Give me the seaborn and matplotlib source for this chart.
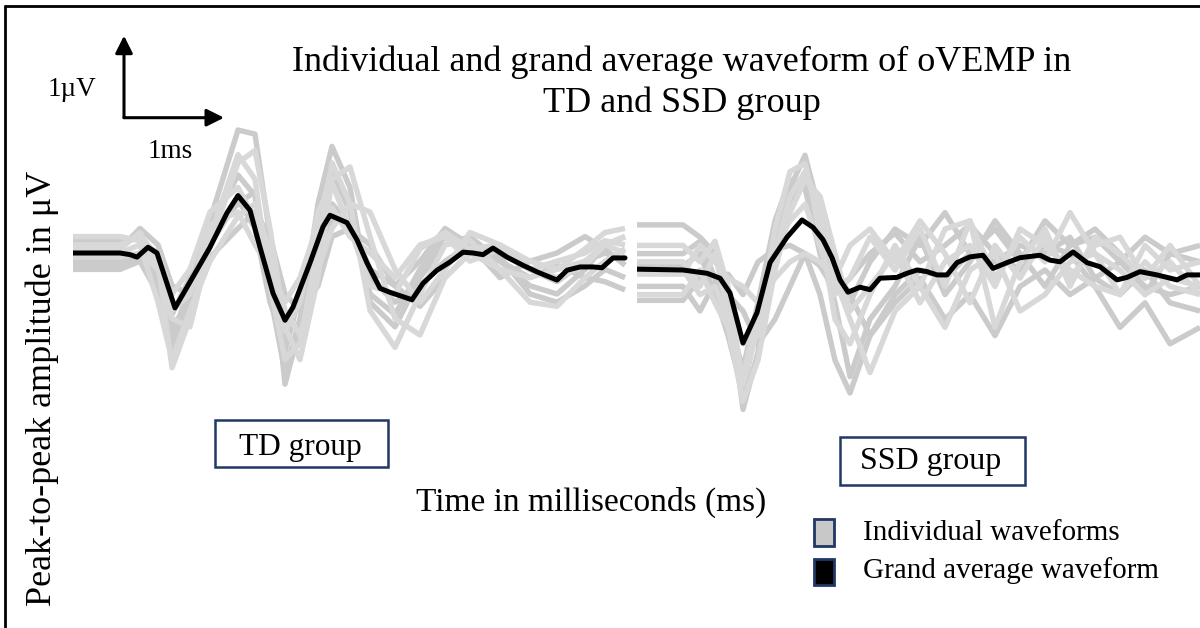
import numpy as np
import pandas as pd
import matplotlib
matplotlib.use("Agg")
import matplotlib.pyplot as plt
from matplotlib.patches import Rectangle
import seaborn as sns

# ---------------- data (ms, µV) ----------------
td_mean_t = [0, 0.47, 0.57, 0.64, 0.75, 0.84, 1.02, 1.20, 1.37, 1.54, 1.65, 1.77, 1.87, 2.00,
             2.12, 2.20, 2.37, 2.50, 2.57, 2.74, 2.84, 2.94, 3.07, 3.17, 3.39, 3.50, 3.64, 3.77,
             3.90, 4.00, 4.10, 4.20, 4.34, 4.50, 4.64, 4.84, 4.94, 5.07, 5.20, 5.29, 5.40, 5.52]
td_mean_v = [0, 0, -0.02, -0.05, 0.07, 0, -0.67, -0.29, 0.07, 0.49, 0.70, 0.52, 0.07, -0.49,
             -0.82, -0.66, -0.12, 0.32, 0.46, 0.37, 0.16, -0.12, -0.43, -0.48, -0.57, -0.37, -0.21, -0.11,
             0.01, 0, -0.02, 0.06, -0.05, -0.15, -0.23, -0.33, -0.21, -0.17, -0.17, -0.18, -0.06, -0.06]

ssd_mean_t = [0, 0.46, 0.70, 0.83, 0.93, 1.06, 1.20, 1.33, 1.50, 1.65, 1.76, 1.86, 1.95, 2.03,
              2.11, 2.23, 2.33, 2.43, 2.60, 2.70, 2.80, 2.90, 3.00, 3.10, 3.20, 3.33, 3.46, 3.56,
              3.70, 3.83, 4.03, 4.13, 4.23, 4.36, 4.50, 4.63, 4.80, 4.90, 5.03, 5.20, 5.40, 5.50, 5.63]
ssd_mean_v = [0.01, 0, -0.04, -0.10, -0.28, -0.89, -0.52, 0.09, 0.40, 0.61, 0.52, 0.37, 0.15, -0.12,
              -0.27, -0.21, -0.24, -0.10, -0.09, -0.04, 0, -0.02, -0.06, -0.06, 0.09, 0.16, 0.18, 0.02,
              0.09, 0.15, 0.18, 0.12, 0.10, 0.22, 0.09, 0.04, -0.12, -0.09, -0.02, -0.06, -0.12, -0.06, -0.06]

td_ind_t = [0.00, 0.47, 0.67, 0.85, 0.99, 1.17, 1.37, 1.65, 1.82, 1.97, 2.12, 2.27, 2.45,
            2.59, 2.77, 2.97, 3.22, 3.47, 3.72, 3.97, 4.27, 4.57, 4.84, 5.12, 5.32, 5.52]
td_ind = [
    [0.15, 0.15, 0.2, -0.3, -1.2, -0.6, 0.4, 1.5, 1.45, 0.2, -1.6, -0.9, 0.6, 1.3, 0.8, -0.6, -0.9, -0.3, 0.1, 0.2, -0.1, -0.4, -0.5, -0.2, 0.1, 0.2],
    [0.05, 0.05, 0.25, -0.1, -1.4, -0.8, 0.2, 1.2, 0.9, -0.4, -1.3, -1.1, 0.1, 1.1, 0.6, -0.7, -1.15, -0.5, 0.1, 0.15, -0.2, -0.6, -0.65, -0.3, -0.1, 0.05],
    [-0.1, -0.1, 0.0, -0.4, -0.9, -0.6, 0.3, 0.95, 0.7, -0.5, -1.45, -0.8, 0.3, 1.0, 0.5, -0.5, -0.75, -0.2, 0.2, 0.1, 0.0, -0.2, -0.35, -0.1, 0.0, -0.1],
    [0.2, 0.2, 0.15, 0.0, -0.5, -0.2, 0.5, 0.8, 0.4, -0.3, -0.95, -0.6, 0.5, 0.85, 0.3, -0.4, -0.5, 0.05, 0.25, 0.05, 0.1, -0.1, -0.2, 0.05, 0.25, 0.3],
    [-0.15, -0.15, -0.05, -0.3, -1.05, -0.4, 0.1, 0.65, 0.3, -0.6, -1.1, -0.5, 0.2, 0.6, 0.35, -0.3, -0.6, -0.4, -0.1, 0.1, -0.05, -0.5, -0.6, -0.4, -0.2, -0.3],
    [0.1, 0.1, 0.2, -0.2, -0.7, -0.5, 0.35, 0.5, 0.1, -0.2, -0.6, -0.3, 0.35, 0.55, 0.2, 0.0, -0.3, 0.1, 0.2, -0.1, 0.05, -0.2, -0.1, 0.0, 0.15, 0.1],
    [-0.2, -0.2, -0.1, -0.5, -0.75, -0.3, 0.25, 0.6, 0.75, -0.2, -1.2, -0.5, -0.1, 0.4, 0.4, -0.2, -0.4, -0.65, -0.3, 0.0, -0.1, -0.3, -0.15, -0.3, -0.35, -0.45],
    [0.0, 0.0, 0.1, -0.6, -1.3, -0.7, -0.1, 0.45, 0.6, 0.0, -0.7, -1.0, -0.2, 0.3, 0.6, 0.5, -0.2, -0.6, -0.2, 0.25, 0.1, -0.2, -0.3, -0.15, 0.1, 0.0],
    [0.05, 0.05, 0.3, 0.1, -0.4, -0.5, -0.05, 0.3, 0.5, 0.2, -0.5, -0.7, -0.4, 0.2, 0.3, 0.1, -0.4, -0.1, 0.3, 0.1, -0.3, -0.1, 0.0, 0.2, 0.05, -0.15],
    [-0.05, -0.05, 0.0, -0.2, -0.8, -0.9, 0.1, 1.1, 1.25, 0.3, -0.9, -1.3, -0.3, 0.9, 1.05, 0.2, -0.8, -1.0, -0.3, 0.0, -0.2, -0.3, -0.2, -0.1, 0.1, 0.2],
]

ssd_ind_t = [0, 0.46, 0.63, 0.78, 0.91, 1.06, 1.21, 1.38, 1.53, 1.68, 1.83, 1.98, 2.13, 2.33,
             2.58, 2.83, 3.08, 3.33, 3.58, 3.83, 4.08, 4.33, 4.58, 4.83, 5.08, 5.33, 5.63]
ssd_ind = [
    [0.55, 0.55, 0.4, 0.2, -0.3, -1.7, -1.0, 0.3, 1.0, 1.4, 0.7, -0.2, -0.4, 0.1, 0.5, 0.3, 0.7, 0.2, 0.5, 0.1, 0.6, 0.3, 0.4, 0.1, 0.4, 0.2, 0.3],
    [0.3, 0.3, 0.1, 0.35, -0.2, -1.4, -0.7, 0.5, 1.2, 1.3, 0.5, -0.6, -0.9, -0.3, 0.3, -0.2, 0.5, 0.6, -0.1, 0.4, 0.1, 0.7, 0.2, -0.3, 0.3, 0.0, 0.1],
    [0.2, 0.2, 0.35, -0.1, -0.6, -1.2, -0.4, 0.6, 1.1, 1.0, 0.2, -0.4, -1.3, -0.6, -0.2, 0.4, -0.3, 0.1, 0.6, 0.2, -0.2, 0.3, 0.5, 0.2, -0.3, 0.2, 0.1],
    [0.1, 0.1, -0.2, 0.2, -0.5, -0.9, -0.8, 0.2, 0.9, 1.2, 0.8, -0.1, 0.3, 0.5, 0.1, 0.6, 0.2, -0.4, 0.3, -0.1, 0.4, -0.1, 0.3, 0.4, -0.1, 0.3, -0.2],
    [0.05, 0.05, 0.2, -0.3, -0.8, -1.5, -0.6, 0.4, 0.8, 1.1, 0.6, 0.0, -0.3, -0.8, -0.4, -0.1, -0.6, -0.3, -0.8, -0.2, 0.0, -0.3, -0.1, 0.1, -0.2, -0.3, -0.2],
    [-0.05, -0.05, 0.3, 0.1, -0.1, -0.2, -0.4, -0.1, 0.1, 0.2, 0.1, -0.1, -0.6, -1.25, -0.5, -0.2, -0.7, 0.0, 0.2, -0.5, -0.3, 0.1, 0.2, 0.0, -0.3, -0.1, -0.2],
    [-0.2, -0.2, -0.5, -0.15, -0.05, -0.3, 0.1, 0.25, 0.3, 0.2, 0.05, -0.25, -0.1, 0.2, 0.45, 0.1, 0.3, 0.55, 0.2, 0.0, 0.3, 0.2, -0.2, -0.7, -0.4, -0.9, -0.7],
    [-0.3, -0.3, 0.0, -0.4, -0.7, -1.6, -1.1, 0.0, 0.7, 1.1, 0.9, 0.2, -0.5, -0.2, 0.2, -0.4, 0.1, 0.3, -0.2, 0.5, 0.3, 0.0, -0.2, -0.3, 0.1, -0.2, -0.3],
    [-0.37, -0.37, -0.1, -0.2, -0.3, -0.5, -0.9, -0.6, -0.2, 0.2, -0.3, -1.1, -1.5, -0.8, -0.3, 0.0, -0.1, 0.2, 0.1, 0.3, 0.2, 0.4, -0.1, -0.3, 0.0, -0.4, -0.5],
    [0.0, 0.0, -0.3, -0.2, -0.6, -1.3, -0.5, 0.3, 0.6, 0.8, 0.3, -0.3, -0.1, 0.4, 0.0, 0.5, -0.2, 0.6, -0.7, 0.1, 0.5, -0.2, 0.4, 0.2, -0.1, 0.1, -0.3],
]

title_lines = ["Individual and grand average waveform of oVEMP in", "TD and SSD group"]
group_labels = ["TD group", "SSD group"]
legend_labels = ["Individual waveforms", "Grand average waveform"]
ylabel = "Peak-to-peak amplitude in μV"
xlabel = "Time in milliseconds (ms)"

# ---------------- styling ----------------
sns.set_theme(style="white")
plt.rcParams["font.family"] = ["Liberation Serif", "DejaVu Serif"]
plt.rcParams["text.color"] = "black"

W, H = 1200, 628
fig = plt.figure(figsize=(W / 100, H / 100), dpi=100)

PX_MS = 100.0   # pixels per ms
PX_UV = 82.0    # pixels per µV

def add_panel(x0, x1, ytop, ybot, ybase):
    ax = fig.add_axes([x0 / W, 1 - ybot / H, (x1 - x0) / W, (ybot - ytop) / H])
    ax.set_xlim(0, (x1 - x0) / PX_MS)
    ax.set_ylim(-(ybot - ybase) / PX_UV, (ybase - ytop) / PX_UV)
    ax.axis("off")
    return ax

ax_td = add_panel(73, 630, 30, 400, 253)
ax_ssd = add_panel(637, 1200, 120, 420, 270)

GRAYS = ["#cbcbcb", "#d8d8d8"]

def draw_group(ax, t_ind, ind, t_mean, v_mean):
    rows = []
    for i, tr in enumerate(ind):
        for t, v in zip(t_ind, tr):
            rows.append({"t": t, "v": v, "subj": i, "shade": i % 2})
    df = pd.DataFrame(rows)
    sns.lineplot(data=df, x="t", y="v", units="subj", estimator=None, hue="shade",
                 palette=GRAYS, lw=3.9, legend=False, ax=ax, sort=False,
                 solid_joinstyle="round", solid_capstyle="butt")
    dm = pd.DataFrame({"t": t_mean, "v": v_mean})
    sns.lineplot(data=dm, x="t", y="v", color="black", lw=3.6, ax=ax, sort=False,
                 estimator=None, solid_joinstyle="round")
    ax.axis("off")

draw_group(ax_td, td_ind_t, td_ind, td_mean_t, td_mean_v)
draw_group(ax_ssd, ssd_ind_t, ssd_ind, ssd_mean_t, ssd_mean_v)

# scale bar (1 ms, 1 µV) in TD data coordinates
t0, a0 = 0.51, 1.65
arr = dict(arrowstyle="-|>,head_length=0.7,head_width=0.35", lw=2.2, color="black",
           shrinkA=0, shrinkB=0, mutation_scale=15)
ax_td.annotate("", xy=(t0, a0 + 1), xytext=(t0, a0), arrowprops=arr, annotation_clip=False)
ax_td.annotate("", xy=(t0 + 1, a0), xytext=(t0, a0), arrowprops=arr, annotation_clip=False)

# overlay axes in pixel coordinates for annotations
ov = fig.add_axes([0, 0, 1, 1], zorder=5)
ov.set_xlim(0, W)
ov.set_ylim(H, 0)
ov.axis("off")
ov.patch.set_alpha(0)

# border
ov.plot([5, 5], [6, H], color="black", lw=2)
ov.plot([5, W], [6, 6], color="black", lw=2)

ov.text(72, 90, "1µV", fontsize=19.5, ha="center", va="center")
ov.text(170, 152, "1ms", fontsize=19.5, ha="center", va="center")

ov.text(682, 62, title_lines[0], fontsize=26, ha="center", va="center")
ov.text(682, 103, title_lines[1], fontsize=26, ha="center", va="center")

ov.text(42, 388, ylabel, fontsize=26, rotation=90, ha="center", va="center")
ov.text(591, 502, xlabel, fontsize=24, ha="center", va="center")

NAVY = "#1f3864"
ov.add_patch(Rectangle((215, 420), 173, 47, fill=False, ec=NAVY, lw=1.8))
ov.text(300, 447, group_labels[0], fontsize=22.5, ha="center", va="center")
ov.add_patch(Rectangle((840, 437), 185, 48, fill=False, ec=NAVY, lw=1.8))
ov.text(931, 462, group_labels[1], fontsize=23, ha="center", va="center")

ov.add_patch(Rectangle((814, 519), 20, 27, fc="#c8c8c8", ec=NAVY, lw=2))
ov.add_patch(Rectangle((814, 559), 20, 26, fc="black", ec=NAVY, lw=2))
ov.text(863, 533, legend_labels[0], fontsize=21, ha="left", va="center")
ov.text(863, 571, legend_labels[1], fontsize=21, ha="left", va="center")

fig.savefig("out.png", dpi=100, facecolor="white")
